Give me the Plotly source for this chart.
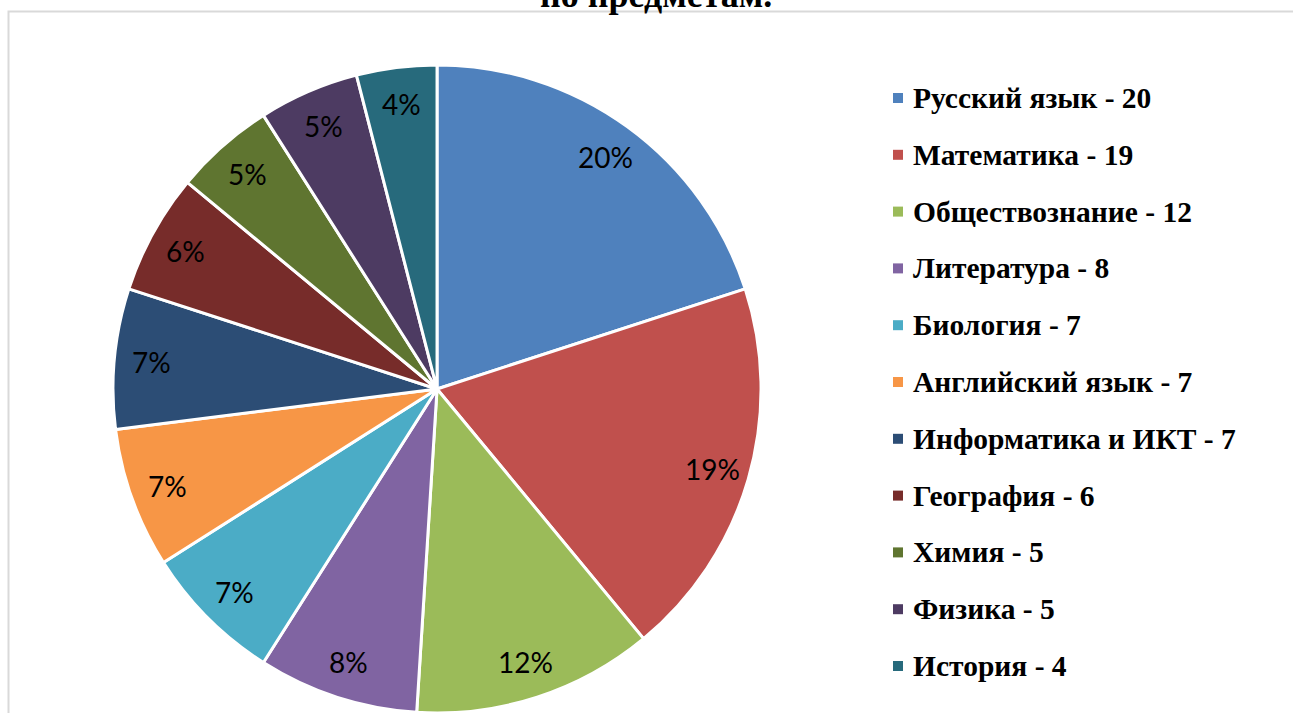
import plotly.graph_objects as go
import math

# Subjects and number of students choosing each one
subjects = ["Русский язык", "Математика", "Обществознание", "Литература", "Биология",
            "Английский язык", "Информатика и ИКТ", "География", "Химия", "Физика", "История"]
counts = [20, 19, 12, 8, 7, 7, 7, 6, 5, 5, 4]
colors = ["#4F81BD", "#C0504D", "#9BBB59", "#8064A2", "#4BACC6", "#F79646",
          "#2C4D75", "#772C2A", "#5F7530", "#4D3B62", "#276A7C"]
title_text = "по предметам."

W, H = 1293, 713
dom_x = [0.0874, 0.5886]
dom_y = [0.0, 0.9089]

fig = go.Figure()
fig.add_trace(go.Pie(
    labels=subjects,
    values=counts,
    sort=False,
    direction="clockwise",
    rotation=0,
    marker=dict(colors=colors, line=dict(color="white", width=3)),
    textinfo="none",
    hoverinfo="label+value+percent",
    domain=dict(x=dom_x, y=dom_y),
    showlegend=False,
))

# pie geometry in pixels (margins are zero, so paper == page)
cx = (dom_x[0] + dom_x[1]) / 2 * W
cy_up = (dom_y[0] + dom_y[1]) / 2 * H
R = min((dom_x[1] - dom_x[0]) * W, (dom_y[1] - dom_y[0]) * H) / 2

annotations = []
total = sum(counts)
cum = 0
for v in counts:
    mid = (cum + v / 2) / total * 2 * math.pi
    cum += v
    r = 0.885 * R
    px = cx + r * math.sin(mid)
    py = cy_up + r * math.cos(mid)
    annotations.append(dict(
        x=px / W, y=py / H, xref="paper", yref="paper",
        text=f"{round(v / total * 100)}%", showarrow=False,
        font=dict(family="Lato", size=28, color="black"),
        xanchor="center", yanchor="middle",
    ))

# legend: coloured squares + bold labels
shapes = []
leg_top = 98
leg_step = 56.8
for i, (s, v, c) in enumerate(zip(subjects, counts, colors)):
    yc = leg_top + i * leg_step
    shapes.append(dict(
        type="rect", xref="paper", yref="paper",
        x0=893 / W, x1=903 / W, y0=1 - (yc - 5) / H, y1=1 - (yc + 5) / H,
        fillcolor=c, line=dict(width=0),
    ))
    annotations.append(dict(
        x=911 / W, y=1 - yc / H, xref="paper", yref="paper",
        text=f"<b>{s} - {v}</b>", showarrow=False,
        font=dict(family="Liberation Serif", size=29.5, color="black"),
        xanchor="left", yanchor="middle",
    ))

# chart area frame
shapes.append(dict(
    type="rect", xref="paper", yref="paper",
    x0=8.5 / W, x1=1.02, y0=-0.02, y1=1 - 11.5 / H,
    line=dict(color="#D9D9D9", width=2), fillcolor="rgba(0,0,0,0)", layer="below",
))

annotations.append(dict(
    x=656 / W, y=1 + 5 / H, xref="paper", yref="paper",
    text=f"<b>{title_text}</b>", showarrow=False,
    font=dict(family="Liberation Serif", size=36, color="black"),
    xanchor="center", yanchor="middle",
))

fig.update_layout(
    width=W, height=H,
    margin=dict(l=0, r=0, t=0, b=0),
    paper_bgcolor="white", plot_bgcolor="white",
    shapes=shapes, annotations=annotations,
    showlegend=False,
)

fig.write_html("out.html", config={"displayModeBar": False})
